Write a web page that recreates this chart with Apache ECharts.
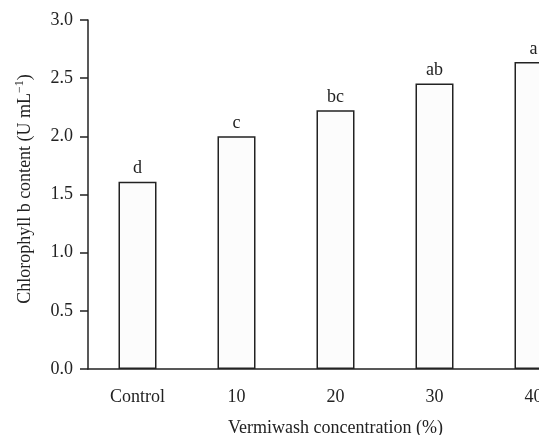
<!DOCTYPE html>
<html>
<head>
<meta charset="utf-8">
<script src="https://cdn.jsdelivr.net/npm/echarts@6/dist/echarts.min.js"></script>
<style>html,body{margin:0;padding:0;background:#fff;overflow:hidden;}#c{width:539px;height:435px;}</style>
</head>
<body>
<div id="c"></div>
<script>
var categories = ['Control', '10', '20', '30', '40'];
var values = [1.61, 2.00, 2.225, 2.455, 2.64];
var letters = ['d', 'c', 'bc', 'ab', 'a'];
var yTicks = [0, 0.5, 1.0, 1.5, 2.0, 2.5, 3.0];

var FONT = '"Liberation Serif", "Times New Roman", serif';
var INK = '#222';
var chart = echarts.init(document.getElementById('c'), null, {renderer: 'canvas', width: 539, height: 435});
chart.setOption({
  animation: false,
  backgroundColor: '#fff',
  grid: {left: 88, top: 20, width: 495, height: 349, containLabel: false, outerBoundsMode: 'none'},
  xAxis: {
    type: 'category',
    data: categories,
    name: 'Vermiwash concentration (%)',
    nameLocation: 'middle',
    nameGap: 50,
    nameTextStyle: {fontFamily: FONT, fontSize: 18, color: INK},
    axisLine: {lineStyle: {color: INK, width: 1.5}},
    axisTick: {alignWithLabel: true, length: 7, lineStyle: {color: INK, width: 1.5}},
    axisLabel: {fontFamily: FONT, fontSize: 18, color: INK, margin: 19},
    splitLine: {show: false}
  },
  yAxis: {
    type: 'value',
    min: yTicks[0],
    max: yTicks[yTicks.length - 1],
    interval: 0.5,
    name: '{a|Chlorophyll b content (U mL}{s|−1}{a|)}',
    nameLocation: 'middle',
    nameGap: 52,
    nameRotate: 90,
    nameTextStyle: {
      fontFamily: FONT, fontSize: 18, color: INK,
      padding: [0, 0, 0, 11],
      rich: {
        a: {fontFamily: FONT, fontSize: 18, color: INK},
        s: {fontFamily: FONT, fontSize: 12, color: INK, padding: [0, 0, 10, 0]}
      }
    },
    axisLine: {show: true, lineStyle: {color: INK, width: 1.5}},
    axisTick: {show: true, length: 8, lineStyle: {color: INK, width: 1.5}},
    axisLabel: {fontFamily: FONT, fontSize: 18, color: INK, margin: 15,
      formatter: function (v) { return v.toFixed(1); }},
    splitLine: {show: false}
  },
  series: [{
    type: 'bar',
    data: values,
    barWidth: 38,
    itemStyle: {color: '#fcfcfc', borderColor: INK, borderWidth: 1.5},
    label: {
      show: true, position: 'top', distance: 4,
      fontFamily: FONT, fontSize: 18, color: INK,
      formatter: function (p) { return letters[p.dataIndex]; }
    }
  }]
});
</script>
</body>
</html>
